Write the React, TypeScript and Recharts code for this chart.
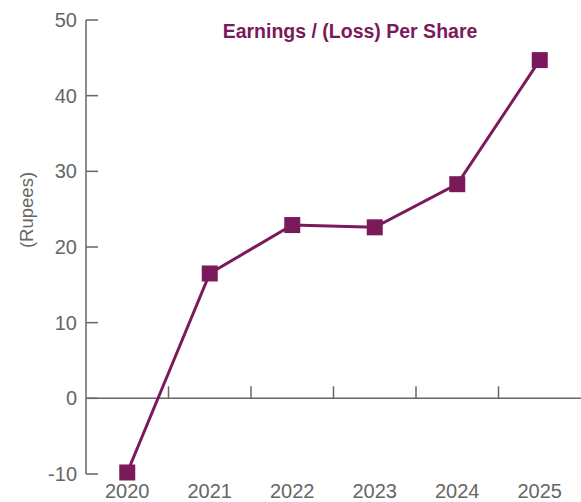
import React from 'react';
import { LineChart, Line, XAxis, YAxis, ReferenceLine } from 'recharts';

const years = ['2020', '2021', '2022', '2023', '2024', '2025'];
const eps = [-9.8, 16.5, 22.9, 22.6, 28.3, 44.7];
const yTicks = [-10, 0, 10, 20, 30, 40, 50];
const title = 'Earnings / (Loss) Per Share';
const yLabel = '(Rupees)';

const data = years.map((year, i) => ({ idx: i, year, eps: eps[i] }));
const xTicks = years.map((_, i) => i);

const PURPLE = '#7a1a5b';
const GRAY = '#666666';
const FONT = '"Liberation Sans", Arial, sans-serif';

const SquareDot = (props: any) => {
  const { cx, cy, index } = props;
  if (cx == null || cy == null) return null;
  return <rect key={'d' + index} x={cx - 8} y={cy - 8} width={16} height={16} fill={PURPLE} />;
};

const ZeroLine = (props: any) => {
  const { x1, y1, x2, y2 } = props;
  const n = years.length;
  const marks = [];
  for (let k = 1; k < n; k++) {
    const x = x1 + ((x2 - x1) * k) / n;
    marks.push(<line key={k} x1={x} x2={x} y1={y1} y2={y1 - 12} stroke={GRAY} strokeWidth={1.5} />);
  }
  return (
    <g>
      <line x1={x1} y1={y1} x2={x2} y2={y2} stroke={GRAY} strokeWidth={1.5} />
      {marks}
    </g>
  );
};

export default function App() {
  return (
    <div style={{ position: 'absolute', left: 0, top: 0, width: 581, height: 502, background: '#fff' }}>
      <LineChart
        width={581}
        height={502}
        data={data}
        margin={{ top: 20, right: 0, bottom: 0, left: 0 }}
      >
        <XAxis
          dataKey="idx"
          type="number"
          domain={[-0.5, years.length - 0.5]}
          ticks={xTicks}
          tickFormatter={(v: number) => years[v]}
          axisLine={false}
          tickLine={false}
          tickSize={0}
          tickMargin={10}
          height={28}
          interval={0}
          tick={{ fill: GRAY, fontSize: 20, fontFamily: FONT }}
        />
        <YAxis
          type="number"
          domain={[-10, 50]}
          ticks={yTicks}
          width={86}
          interval={0}
          axisLine={{ stroke: GRAY, strokeWidth: 1.5 }}
          tickLine={{ stroke: GRAY, strokeWidth: 1.5 }}
          tickSize={-12}
          tickMargin={21}
          tick={{ fill: GRAY, fontSize: 20, fontFamily: FONT }}
        />
        <ReferenceLine y={0} shape={ZeroLine} />
        <Line
          dataKey="eps"
          stroke={PURPLE}
          strokeWidth={3}
          dot={SquareDot}
          activeDot={false}
          isAnimationActive={false}
        />
      </LineChart>
      <svg
        width={581}
        height={502}
        style={{ position: 'absolute', left: 0, top: 0, pointerEvents: 'none' }}
      >
        <text x={350} y={38} textAnchor="middle" fill={PURPLE} fontSize={19.5} fontWeight="bold" fontFamily={FONT}>
          {title}
        </text>
        <text
          x={33}
          y={210}
          transform="rotate(-90, 33, 210)"
          textAnchor="middle"
          fill={GRAY}
          fontSize={18.5}
          fontFamily={FONT}
        >
          {yLabel}
        </text>
      </svg>
    </div>
  );
}
